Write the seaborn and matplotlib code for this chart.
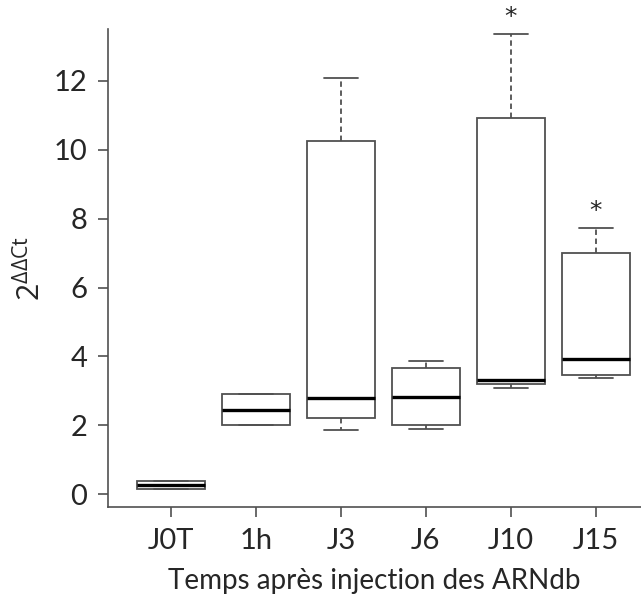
import numpy as np
import pandas as pd
import seaborn as sns
import matplotlib.pyplot as plt

# five values per time point: min, q1, median, q3, max
groups = ['J0T', '1h', 'J3', 'J6', 'J10', 'J15']
j0t = [0.15, 0.15, 0.26, 0.37, 0.37]
h1 = [2.00, 2.00, 2.45, 2.90, 2.90]
j3 = [1.87, 2.22, 2.79, 10.24, 12.07]
j6 = [1.90, 2.00, 2.82, 3.66, 3.88]
j10 = [3.08, 3.19, 3.32, 10.93, 13.35]
j15 = [3.37, 3.46, 3.92, 7.00, 7.74]
stars = {'J10': 13.84, 'J15': 8.23}

vals = [j0t, h1, j3, j6, j10, j15]
df = pd.DataFrame({'time': np.repeat(groups, 5),
                   'value': np.concatenate(vals)})

sns.set_style('white')
plt.rcParams['font.family'] = ['Lato', 'DejaVu Sans']
plt.rcParams['mathtext.fontset'] = 'custom'
plt.rcParams['mathtext.rm'] = 'Open Sans'
plt.rcParams['mathtext.it'] = 'Open Sans'
plt.rcParams['mathtext.fallback'] = 'stixsans'

fig = plt.figure(figsize=(6.41, 6.01), dpi=100)
ax = fig.add_axes([0.1685, 0.156, 0.831, 0.796])

grey = '#505050'
sns.boxplot(data=df, x='time', y='value', order=groups, ax=ax,
            whis=(0, 100), width=0.8, color='white', linecolor=grey,
            linewidth=1.3,
            medianprops={'color': 'black', 'linewidth': 2.4},
            whiskerprops={'linestyle': (0, (3, 2)), 'color': grey},
            capprops={'color': grey})

for g, yv in stars.items():
    ax.text(groups.index(g), yv, '*', ha='center', va='center',
            fontsize=18, family='DejaVu Sans')

ax.set_xlim(-0.741, 5.53)
ax.set_ylim(-0.38, 13.51)
ax.set_yticks(range(0, 13, 2))

for s in ['top', 'right']:
    ax.spines[s].set_visible(False)
for s in ['left', 'bottom']:
    ax.spines[s].set_color(grey)
    ax.spines[s].set_linewidth(1.2)

ax.tick_params(axis='both', which='both', direction='out', length=7,
               width=1.2, color=grey, labelsize=21, left=True, bottom=True)
ax.tick_params(axis='y', pad=8)
ax.tick_params(axis='x', pad=8)

ax.set_xlabel('Temps après injection des ARNdb', fontsize=20, labelpad=10)
ax.set_ylabel(r'$2^{\Delta\Delta\mathrm{Ct}}$', fontsize=22, labelpad=6)

fig.savefig('out.png', dpi=100)
